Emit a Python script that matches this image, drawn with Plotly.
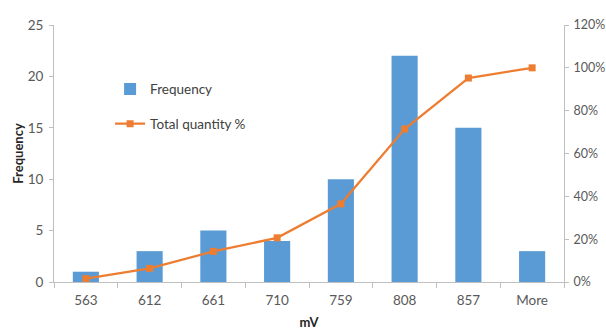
import plotly.graph_objects as go

# Histogram bins (mV) and counts
bins = ["563", "612", "661", "710", "759", "808", "857", "More"]
frequency = [1, 3, 5, 4, 10, 22, 15, 3]

# Cumulative share of the total, in percent
total = sum(frequency)
cumulative_pct = []
running = 0
for f in frequency:
    running += f
    cumulative_pct.append(running / total * 100)

font_family = "Lato, 'Open Sans', sans-serif"
tick_color = "#595959"
axis_color = "#BFBFBF"

fig = go.Figure()
fig.add_trace(go.Bar(
    x=bins, y=frequency, name="Frequency",
    marker=dict(color="#5B9BD5", line=dict(width=0)),
    width=0.41, legendgroup="a",
))
fig.add_trace(go.Scatter(
    x=bins, y=cumulative_pct, name="Total quantity %", yaxis="y2",
    mode="lines+markers",
    line=dict(color="#ED7D31", width=2.25),
    marker=dict(symbol="square", size=7, color="#ED7D31"),
    legendgroup="b",
))

fig.update_layout(
    width=606, height=331,
    margin=dict(l=54, r=42, t=25, b=49),
    paper_bgcolor="white", plot_bgcolor="white",
    font=dict(family=font_family, size=13.5, color=tick_color),
    showlegend=True,
    legend=dict(
        x=0.11, y=0.81, xanchor="left", yanchor="top",
        bgcolor="rgba(0,0,0,0)", tracegroupgap=14,
        font=dict(size=13.5, color="#404040"),
        itemwidth=30,
    ),
    xaxis=dict(
        type="category", showgrid=False, showline=True, linecolor=axis_color,
        ticks="outside", tickson="boundaries", ticklen=5, tickcolor=axis_color,
        ticklabelstandoff=6, automargin=False,
        title=dict(text="<b>mV</b>", font=dict(size=13, color="#262626"), standoff=10),
        range=[-0.5, 7.5],
    ),
    yaxis=dict(
        range=[0, 25], dtick=5, showgrid=False, showline=True, linecolor=axis_color,
        ticks="outside", ticklen=4, tickcolor=axis_color, zeroline=False,
        ticklabelstandoff=3, automargin=False,
        title=dict(text="<b>Frequency</b>", font=dict(size=13, color="#262626"), standoff=1),
    ),
    yaxis2=dict(
        overlaying="y", side="right", range=[0, 120], dtick=20, ticksuffix="%",
        showgrid=False, showline=True, linecolor=axis_color,
        ticks="outside", ticklen=4, tickcolor=axis_color, zeroline=False,
        ticklabelstandoff=2, automargin=False,
        tickfont=dict(size=12.5),
    ),
)

fig.write_html("out.html")
